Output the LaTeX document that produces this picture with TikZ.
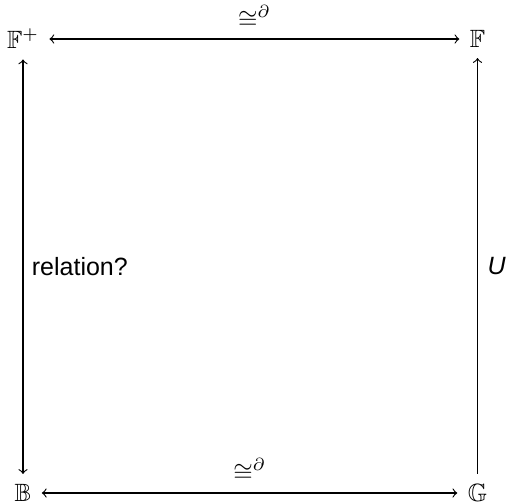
\documentclass[tikz,border=0pt]{standalone}
\usepackage{amssymb}
\usepackage{fontspec}
\newfontfamily\lsans{Liberation Sans}
\begin{document}
\begin{tikzpicture}[x=0.4pt,y=-0.4pt,
  obj/.style={inner sep=4pt},
  arr/.style={line width=0.45pt,>=to},
  lab/.style={font=\lsans}]
\useasboundingbox (0,0) rectangle (506,502);
\node[obj] (Fp) at (23,39) {$\mathbb{F}^{+}$};
\node[obj] (F) at (477.5,39) {$\mathbb{F}$};
\node[obj] (B) at (23,493) {$\mathbb{B}$};
\node[obj] (G) at (477.5,493) {$\mathbb{G}$};
\draw[arr,<->] (Fp) -- node[above=0.5pt] {$\cong^{\partial}$} (F);
\draw[arr,<->] (B) -- node[above=1pt] {$\cong^{\partial}$} (G);
\draw[arr,<->] (Fp) -- node[right=0pt,lab] {relation?} (B);
\draw[arr,->] (G) -- node[right=0.5pt,lab] {\itshape U} (F);
\end{tikzpicture}
\end{document}
